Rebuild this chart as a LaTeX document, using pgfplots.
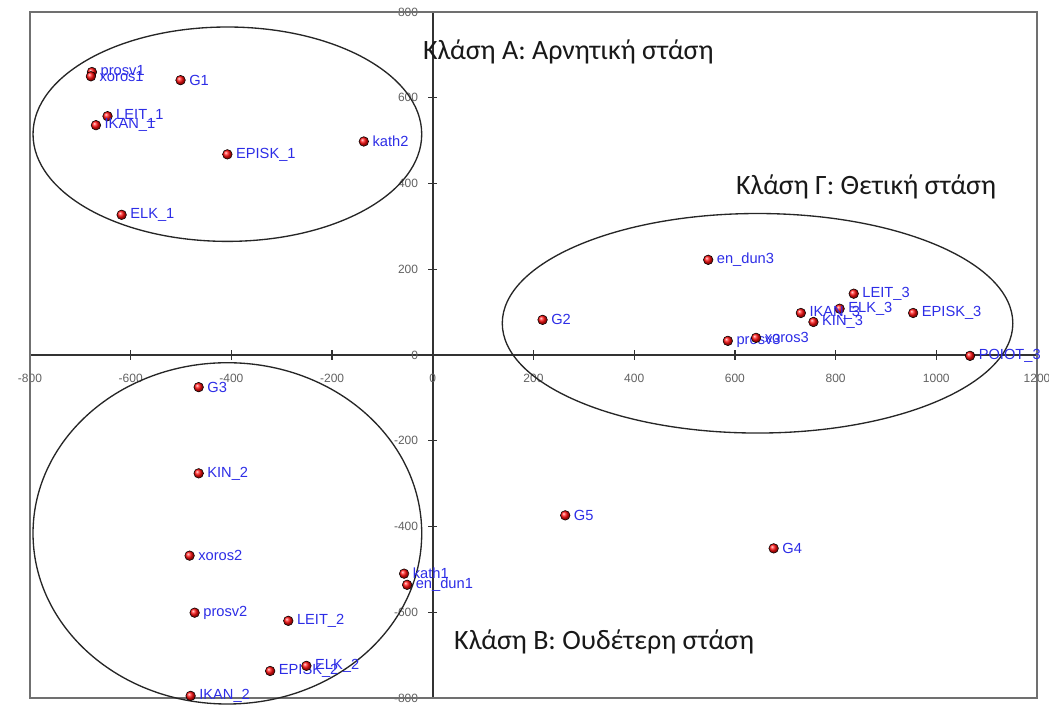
\documentclass[border=0pt]{standalone}
\usepackage{fontspec}
\setmainfont{Liberation Sans}
\newfontfamily\calib{Carlito}
\usepackage{pgfplots}
\pgfplotsset{compat=1.18}
\definecolor{lbl}{RGB}{45,45,230}
\definecolor{frm}{RGB}{112,112,112}
\definecolor{axl}{RGB}{50,50,50}
\begin{document}
\begin{tikzpicture}
\begin{axis}[
  scale only axis,
  width=755.25pt, height=514.5pt,
  xmin=-800, xmax=1200, ymin=-800, ymax=800,
  axis lines=middle,
  axis line style={-, axl, line width=1.1pt},
  xtick={-800,-600,...,1200},
  ytick={-800,-600,...,800},
  hide obscured x ticks=false,
  hide obscured y ticks=false,
  tick align=center,
  major tick length=7pt,
  tick style={axl, line width=1pt},
  /pgf/number format/assume math mode=true,
  /pgf/number format/1000 sep={},
  ticklabel style={font=\fontsize{9}{10}\selectfont, text=black!62},
  xticklabel style={yshift=-7pt},
  yticklabel style={xshift=-4pt},
  clip=false,
]
\draw[frm, line width=1.5pt] (rel axis cs:0,0) rectangle (rel axis cs:1,1);
\coordinate (sw) at (rel axis cs:0,0);
\coordinate (ne) at (rel axis cs:1,1);
\draw[black!85, line width=1pt] (axis cs:-408,515) ellipse [x radius=386, y radius=250];
\draw[black!85, line width=1pt] (axis cs:645,74) ellipse [x radius=507, y radius=256];
\draw[black!85, line width=1pt] (axis cs:-408,-416) ellipse [x radius=386, y radius=398];
\addplot[only marks, mark=ball, mark size=3.6pt, mark options={ball color=red!95!white},
  nodes near coords, point meta=explicit symbolic,
  nodes near coords style={anchor=west, xshift=3pt, text=lbl, font=\fontsize{11}{12}\selectfont}]
  table[meta=label] {
x y label
-677 660 prosv1
-679 650 xoros1
-501 641 G1
-646 557 LEIT\_1
-669 536 IKAN\_1
-408 468 EPISK\_1
-137 498 kath2
-618 327 ELK\_1
547 222 en\_dun3
218 82 G2
836 143 LEIT\_3
808 108 ELK\_3
731 98 IKAN\_3
756 77 KIN\_3
954 98 EPISK\_3
586 33 prosv3
642 40 xoros3
1067 -2 POIOT\_3
-465 -75 G3
-465 -276 KIN\_2
-483 -468 xoros2
-473 -601 prosv2
-287 -620 LEIT\_2
-323 -737 EPISK\_2
-251 -725 ELK\_2
-481 -795 IKAN\_2
-57 -510 kath1
-51 -536 en\_dun1
263 -374 G5
677 -451 G4
};
\node[anchor=west, inner sep=0pt, font=\calib\fontsize{21}{24}\selectfont, text=black!90] at (axis cs:-20,706) {Κλάση Α: Αρνητική στάση};
\node[anchor=west, inner sep=0pt, font=\calib\fontsize{21}{24}\selectfont, text=black!90] at (axis cs:602,393) {Κλάση Γ: Θετική στάση};
\node[anchor=west, inner sep=0pt, font=\calib\fontsize{21}{24}\selectfont, text=black!90] at (axis cs:42,-669) {Κλάση Β: Ουδέτερη στάση};
\end{axis}
\pgfresetboundingbox
\path ([shift={(-22.5pt,-5.25pt)}]sw) rectangle ([shift={(9pt,9pt)}]ne);
\end{tikzpicture}
\end{document}
